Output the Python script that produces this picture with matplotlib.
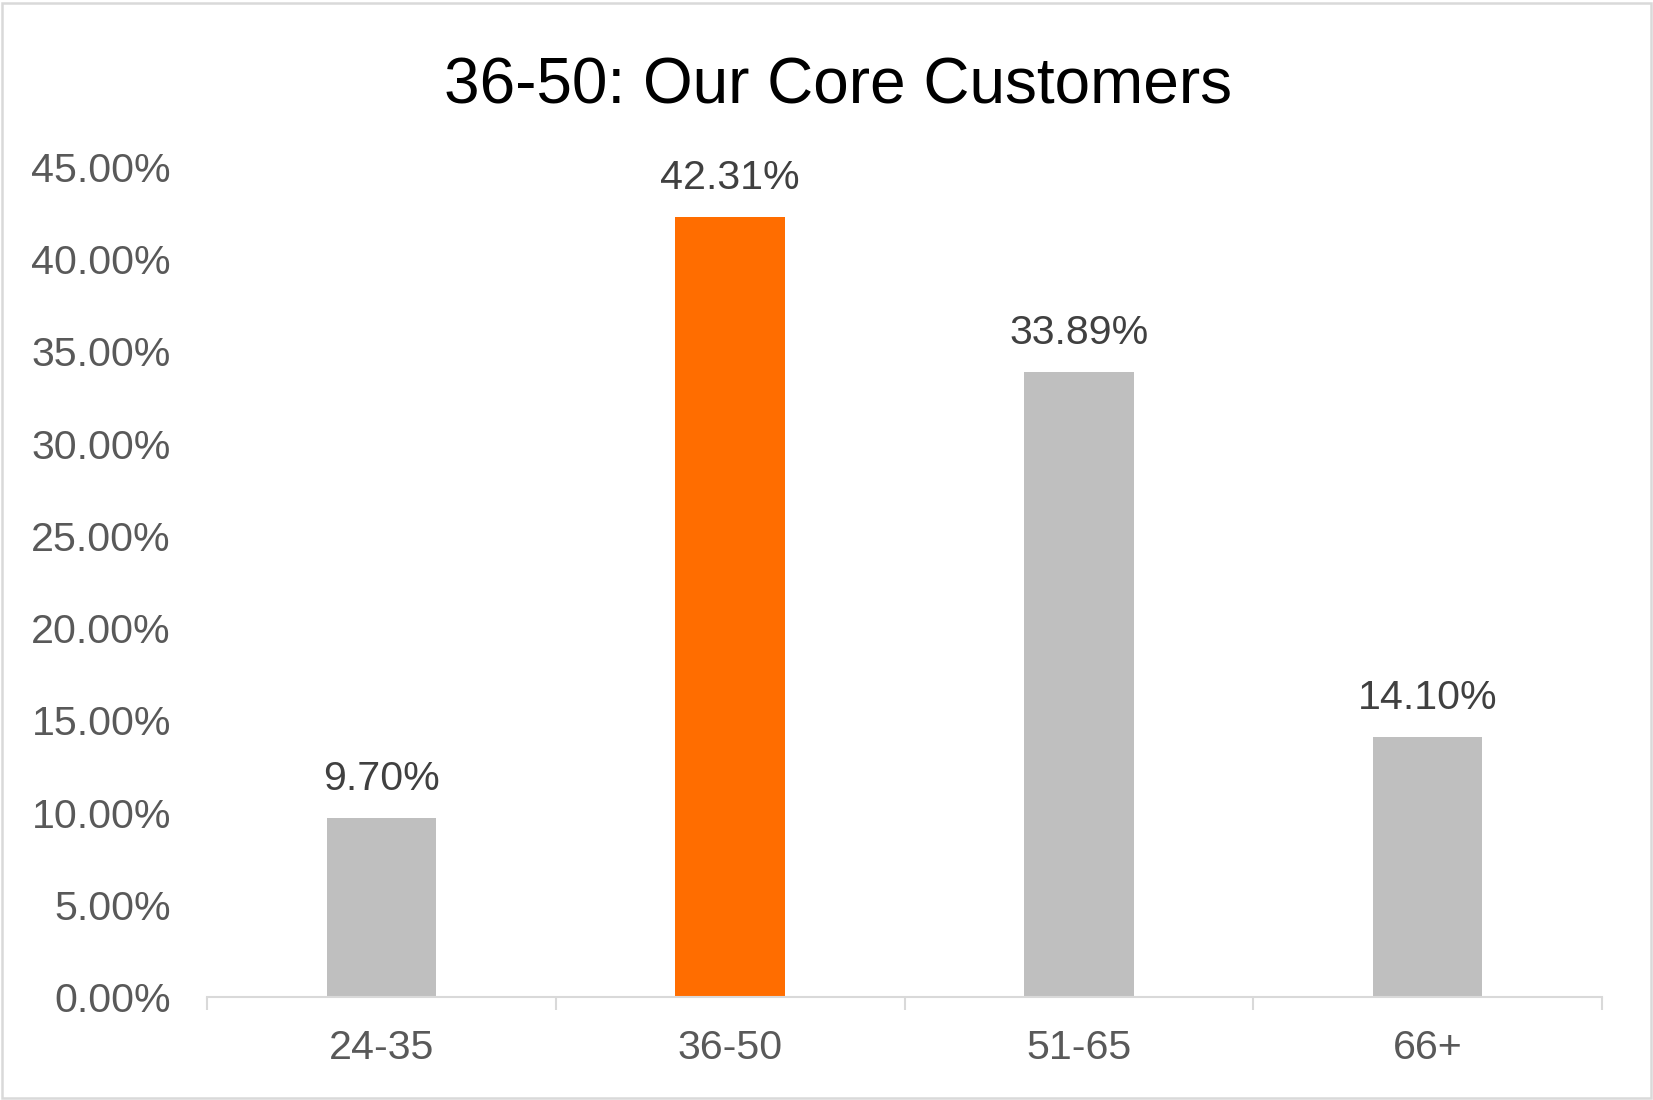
import matplotlib
matplotlib.use("Agg")
import matplotlib.pyplot as plt
from matplotlib.patches import Rectangle
from matplotlib.ticker import FixedLocator, FuncFormatter

plt.rcParams['font.family'] = ['Liberation Sans', 'DejaVu Sans']

categories = ["24-35", "36-50", "51-65", "66+"]
values = [0.0970, 0.4231, 0.3389, 0.1410]
bar_colors = ["#BFBFBF", "#FF6D00", "#BFBFBF", "#BFBFBF"]
yticks = [0.0, 0.05, 0.10, 0.15, 0.20, 0.25, 0.30, 0.35, 0.40, 0.45]
title = "36-50: Our Core Customers"

W, H = 1653, 1100
fig = plt.figure(figsize=(W / 100, H / 100), dpi=100)
ax = fig.add_axes([207 / W, 1 - 997 / H, (1602 - 207) / W, 830 / H])

x = list(range(len(categories)))
ax.bar(x, values, width=0.3135, color=bar_colors, zorder=2)

ax.set_xlim(-0.5, len(categories) - 0.5)
ax.set_ylim(0, 0.45)

# y axis
ax.set_yticks(yticks)
ax.yaxis.set_major_formatter(FuncFormatter(lambda v, p: f"{v*100:.2f}%"))
ax.tick_params(axis='y', length=0, pad=26, labelsize=29.6, labelcolor='#595959')

# x axis: ticks at category boundaries, labels at centres
ax.xaxis.set_major_locator(FixedLocator([i - 0.5 for i in range(len(categories) + 1)]))
ax.xaxis.set_major_formatter(FuncFormatter(lambda v, p: ""))
ax.xaxis.set_minor_locator(FixedLocator(x))
ax.set_xticklabels(categories, minor=True)
ax.tick_params(axis='x', which='major', length=9.4, width=1.5, color='#D9D9D9', direction='out')
ax.tick_params(axis='x', which='minor', length=0, pad=23, labelsize=29.6, labelcolor='#595959')

for s in ['top', 'right', 'left']:
    ax.spines[s].set_visible(False)
ax.spines['bottom'].set_color('#D9D9D9')
ax.spines['bottom'].set_linewidth(1.5)
ax.spines['bottom'].set_zorder(3)

for xi, v in zip(x, values):
    ax.annotate(f"{v*100:.2f}%", xy=(xi, v), xytext=(0, 20), textcoords='offset points',
                ha='center', va='baseline', fontsize=29.6, color='#404040')

fig.text(0.507, 1 - 104 / H, title, ha='center', va='baseline', fontsize=46, color='black')

fig.patches.append(Rectangle((2 / W, 2.5 / H), 1 - 4.5 / W, 1 - 5 / H, transform=fig.transFigure,
                             fill=False, edgecolor='#D9D9D9', linewidth=1.8))

fig.savefig("out.png", dpi=100, facecolor='white')
